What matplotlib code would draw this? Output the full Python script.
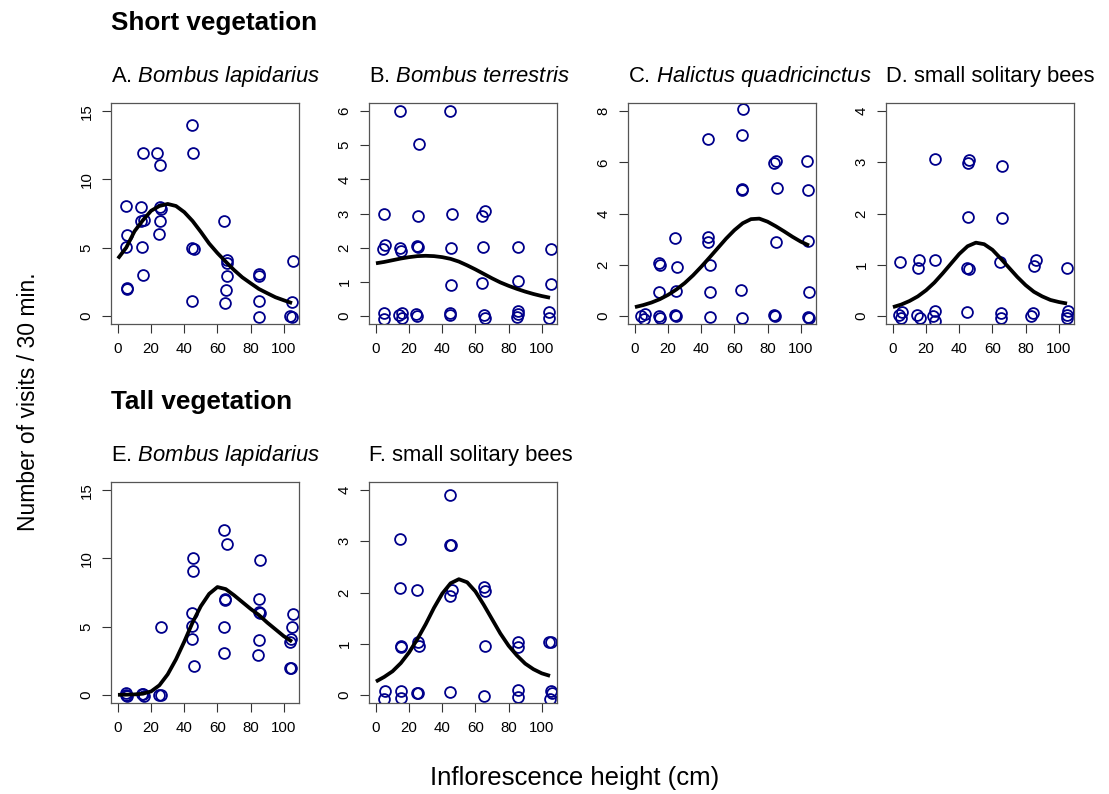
import matplotlib
matplotlib.use('Agg')
import matplotlib.pyplot as plt

plt.rcParams['font.family'] = ['Liberation Sans', 'DejaVu Sans']
plt.rcParams['mathtext.fontset'] = 'custom'
plt.rcParams['mathtext.rm'] = 'Liberation Sans'
plt.rcParams['mathtext.it'] = 'Liberation Sans:italic'

# fitted curves, read at every 5 cm
curve_x = [0, 5, 10, 15, 20, 25, 30, 35, 40, 45, 50, 55, 60, 65, 70, 75, 80, 85, 90, 95, 100, 105]
curve_a = [4.2, 5.0, 6.2, 7.0, 7.7, 8.05, 8.2, 8.05, 7.6, 6.95, 6.15, 5.3, 4.6, 3.97, 3.36, 2.82, 2.39, 1.97, 1.66, 1.36, 1.14, 0.93]
curve_b = [1.54, 1.58, 1.63, 1.68, 1.72, 1.75, 1.76, 1.75, 1.72, 1.67, 1.59, 1.48, 1.36, 1.23, 1.10, 0.98, 0.88, 0.79, 0.71, 0.64, 0.58, 0.53]
curve_c = [0.34, 0.42, 0.52, 0.65, 0.82, 1.03, 1.28, 1.58, 1.92, 2.28, 2.65, 3.02, 3.35, 3.62, 3.78, 3.80, 3.68, 3.50, 3.30, 3.09, 2.90, 2.75]
curve_d = [0.17, 0.22, 0.29, 0.38, 0.50, 0.65, 0.83, 1.02, 1.21, 1.36, 1.43, 1.40, 1.29, 1.12, 0.94, 0.76, 0.60, 0.47, 0.38, 0.31, 0.27, 0.24]
curve_e = [0.0, 0.01, 0.03, 0.08, 0.25, 0.7, 1.5, 2.6, 3.9, 5.3, 6.5, 7.4, 7.9, 7.75, 7.3, 6.8, 6.3, 5.85, 5.3, 4.8, 4.3, 3.9]
curve_f = [0.26, 0.35, 0.46, 0.62, 0.83, 1.09, 1.38, 1.70, 1.98, 2.18, 2.26, 2.20, 2.02, 1.76, 1.48, 1.20, 0.96, 0.77, 0.61, 0.50, 0.42, 0.37]

# observations (jittered as plotted)
pts_a_x = [5.0, 5.4, 5.0, 5.2, 5.6, 15.4, 14.0, 13.8, 15.6, 14.6, 15.4, 23.8, 25.5, 25.5, 26.0, 25.5, 25.0,
           44.9, 45.1, 44.9, 46.0, 44.9, 63.9, 65.5, 65.5, 66.0, 65.0, 64.5, 85.0, 85.2, 85.0, 84.8,
           105.8, 105.2, 104.0, 104.8]
pts_a_y = [8.06, 5.92, 5.04, 1.97, 2.04, 11.96, 7.94, 6.94, 7.0, 5.04, 3.0, 11.96, 11.03, 8.0, 7.86, 6.96, 5.97,
           13.98, 11.93, 4.94, 4.9, 1.05, 6.96, 4.09, 3.9, 2.95, 1.92, 0.93, 3.04, 2.95, 1.05, -0.1,
           3.99, 1.02, -0.05, -0.1]

pts_b_x = [4.8, 5.4, 4.4, 5.0, 5.0, 14.4, 14.8, 15.0, 14.0, 15.6, 15.8, 25.7, 25.5, 24.8, 25.6, 24.4, 24.8,
           44.7, 45.9, 45.3, 45.1, 44.5, 44.9, 64.1, 65.5, 64.5, 64.1, 64.9, 65.5,
           85.8, 85.4, 85.4, 85.8, 85.2, 105.8, 105.6, 104.2, 104.6]
pts_b_y = [2.98, 2.09, 1.95, 0.08, -0.1, 6.0, 1.99, 1.9, 0.01, -0.05, 0.08, 5.05, 2.92, 2.04, 2.03, 0.06, -0.02,
           6.0, 3.0, 1.99, 0.91, 0.08, 0.01, 2.92, 3.08, 2.03, 0.95, 0.01, -0.07,
           2.03, 1.03, 0.13, 0.06, -0.04, 1.96, 0.92, 0.1, -0.07]

pts_c_x = [3.6, 5.8, 5.6, 14.6, 15.4, 14.6, 14.2, 15.0, 24.0, 25.2, 25.0, 24.0, 25.0,
           44.0, 44.0, 44.0, 45.0, 45.0, 45.4, 65.0, 64.8, 64.4, 64.8, 63.8, 64.4,
           84.0, 85.0, 85.4, 85.0, 83.8, 84.6, 103.8, 104.4, 104.6, 105.0, 104.2, 105.0]
pts_c_y = [0.0, 0.08, -0.13, 2.05, 1.99, 0.94, 0.0, -0.1, 3.03, 1.9, 0.96, 0.04, 0.0,
           6.9, 3.09, 2.9, 1.97, 0.94, -0.03, 8.09, 7.08, 4.94, 4.91, 1.01, -0.1,
           5.97, 6.04, 5.0, 2.9, 0.04, 0.0, 6.05, 4.91, 2.94, 0.94, -0.03, -0.1]

pts_d_x = [4.0, 3.6, 5.6, 4.6, 15.5, 15.0, 14.7, 16.1, 25.5, 25.1, 25.5, 25.1, 24.3,
           45.8, 45.0, 45.2, 44.6, 45.8, 44.6, 65.5, 65.5, 64.3, 65.1, 65.1,
           86.0, 85.3, 84.7, 83.5, 104.8, 105.4, 104.8, 105.0]
pts_d_y = [1.05, 0.01, 0.08, -0.05, 1.1, 0.94, 0.01, -0.04, 3.06, 1.1, 0.1, -0.1, 0.0,
           3.05, 2.98, 1.93, 0.94, 0.92, 0.07, 2.92, 1.91, 1.05, 0.05, -0.05,
           1.1, 0.97, 0.05, -0.01, 0.93, 0.1, -0.05, 0.01]

pts_e_x = [4.8, 5.4, 5.0, 14.4, 15.4, 16.0, 25.9, 25.0, 26.0,
           45.3, 45.3, 44.5, 44.9, 44.9, 45.9, 64.0, 65.7, 64.3, 64.7, 64.0, 64.0,
           85.4, 85.0, 85.6, 85.0, 84.8, 84.2, 105.6, 105.2, 104.4, 104.0, 104.4, 104.0]
pts_e_y = [0.1, -0.1, 0.0, 0.07, 0.07, -0.1, 4.97, 0.02, -0.05,
           10.0, 9.06, 5.97, 5.06, 4.09, 2.09, 12.08, 11.03, 7.06, 6.96, 4.94, 3.07,
           9.91, 7.01, 6.0, 6.04, 3.99, 2.95, 5.94, 4.97, 4.11, 3.9, 2.0, 2.0]

pts_f_x = [5.4, 4.8, 14.4, 14.4, 15.0, 15.4, 15.4, 15.0, 24.8, 25.4, 26.0, 24.8, 25.6,
           44.5, 44.9, 45.5, 45.9, 44.9, 44.5, 64.9, 65.5, 65.5, 64.9,
           85.6, 85.6, 85.6, 85.6, 104.6, 105.8, 105.6, 106.2, 105.2]
pts_f_y = [0.07, -0.08, 3.04, 2.08, 0.93, 0.95, 0.07, -0.07, 2.04, 1.04, 0.95, 0.04, 0.03,
           3.9, 2.93, 2.93, 2.04, 1.94, 0.06, 2.1, 2.02, 0.95, -0.03,
           1.03, 0.94, 0.09, -0.05, 1.03, 1.03, 0.07, 0.04, -0.08]

titles = ['A. $\\it{Bombus\\ lapidarius}$', 'B. $\\it{Bombus\\ terrestris}$',
          'C. $\\it{Halictus\\ quadricinctus}$', 'D. small solitary bees',
          'E. $\\it{Bombus\\ lapidarius}$', 'F. small solitary bees']
ymax = [15, 6, 8, 4, 15, 4]
ysteps = [5, 1, 2, 1, 5, 1]
xticks = [0, 20, 40, 60, 80, 100]

panels = [(pts_a_x, pts_a_y, curve_a), (pts_b_x, pts_b_y, curve_b), (pts_c_x, pts_c_y, curve_c),
          (pts_d_x, pts_d_y, curve_d), (pts_e_x, pts_e_y, curve_e), (pts_f_x, pts_f_y, curve_f)]

W, H = 1109, 794
fig = plt.figure(figsize=(W / 100, H / 100), dpi=100)

lefts = [111, 369, 628, 886, 111, 369]
tops = [103, 103, 103, 103, 482, 482]
pw, ph = 188, 221

for i, (px, py, cy) in enumerate(panels):
    ax = fig.add_axes([lefts[i] / W, 1 - (tops[i] + ph) / H, pw / W, ph / H])
    ax.plot(curve_x, cy, color='black', lw=2.7, solid_capstyle='butt', solid_joinstyle='round', zorder=3)
    ax.plot(px, py, 'o', ms=7.8, mfc='none', mec='#00008B', mew=1.3, zorder=2)
    ax.set_xlim(-4.2, 109.2)
    ext = ymax[i] * 0.04
    ax.set_ylim(-ext, ymax[i] + ext)
    ax.set_xticks(xticks)
    ax.set_yticks(list(range(0, ymax[i] + 1, ysteps[i])))
    ax.tick_params(direction='out', length=6.7, width=0.8, labelsize=10.8, color='#333333')
    ax.tick_params(axis='x', pad=6.5)
    ax.tick_params(axis='y', pad=5.8, labelrotation=90)
    for lab in ax.get_yticklabels():
        lab.set_va('center')
    for sp in ax.spines.values():
        sp.set_color('#555555')
        sp.set_linewidth(0.9)
    ax.annotate(titles[i], xy=(0, 1), xycoords='axes fraction', xytext=(0, 15),
                textcoords='offset points', va='baseline', ha='left', fontsize=15.8)

fig.text(111 / W, 1 - 30 / H, 'Short vegetation', fontsize=18.8, fontweight='bold', va='baseline', ha='left')
fig.text(111 / W, 1 - 409 / H, 'Tall vegetation', fontsize=18.8, fontweight='bold', va='baseline', ha='left')
fig.text(29 / W, 1 - 402 / H, 'Number of visits / 30 min.', fontsize=16.5, rotation=90, va='center', ha='center')
fig.text(575 / W, 1 - 778 / H, 'Inflorescence height (cm)', fontsize=18.5, va='center', ha='center')

fig.savefig('out.png', dpi=100)
